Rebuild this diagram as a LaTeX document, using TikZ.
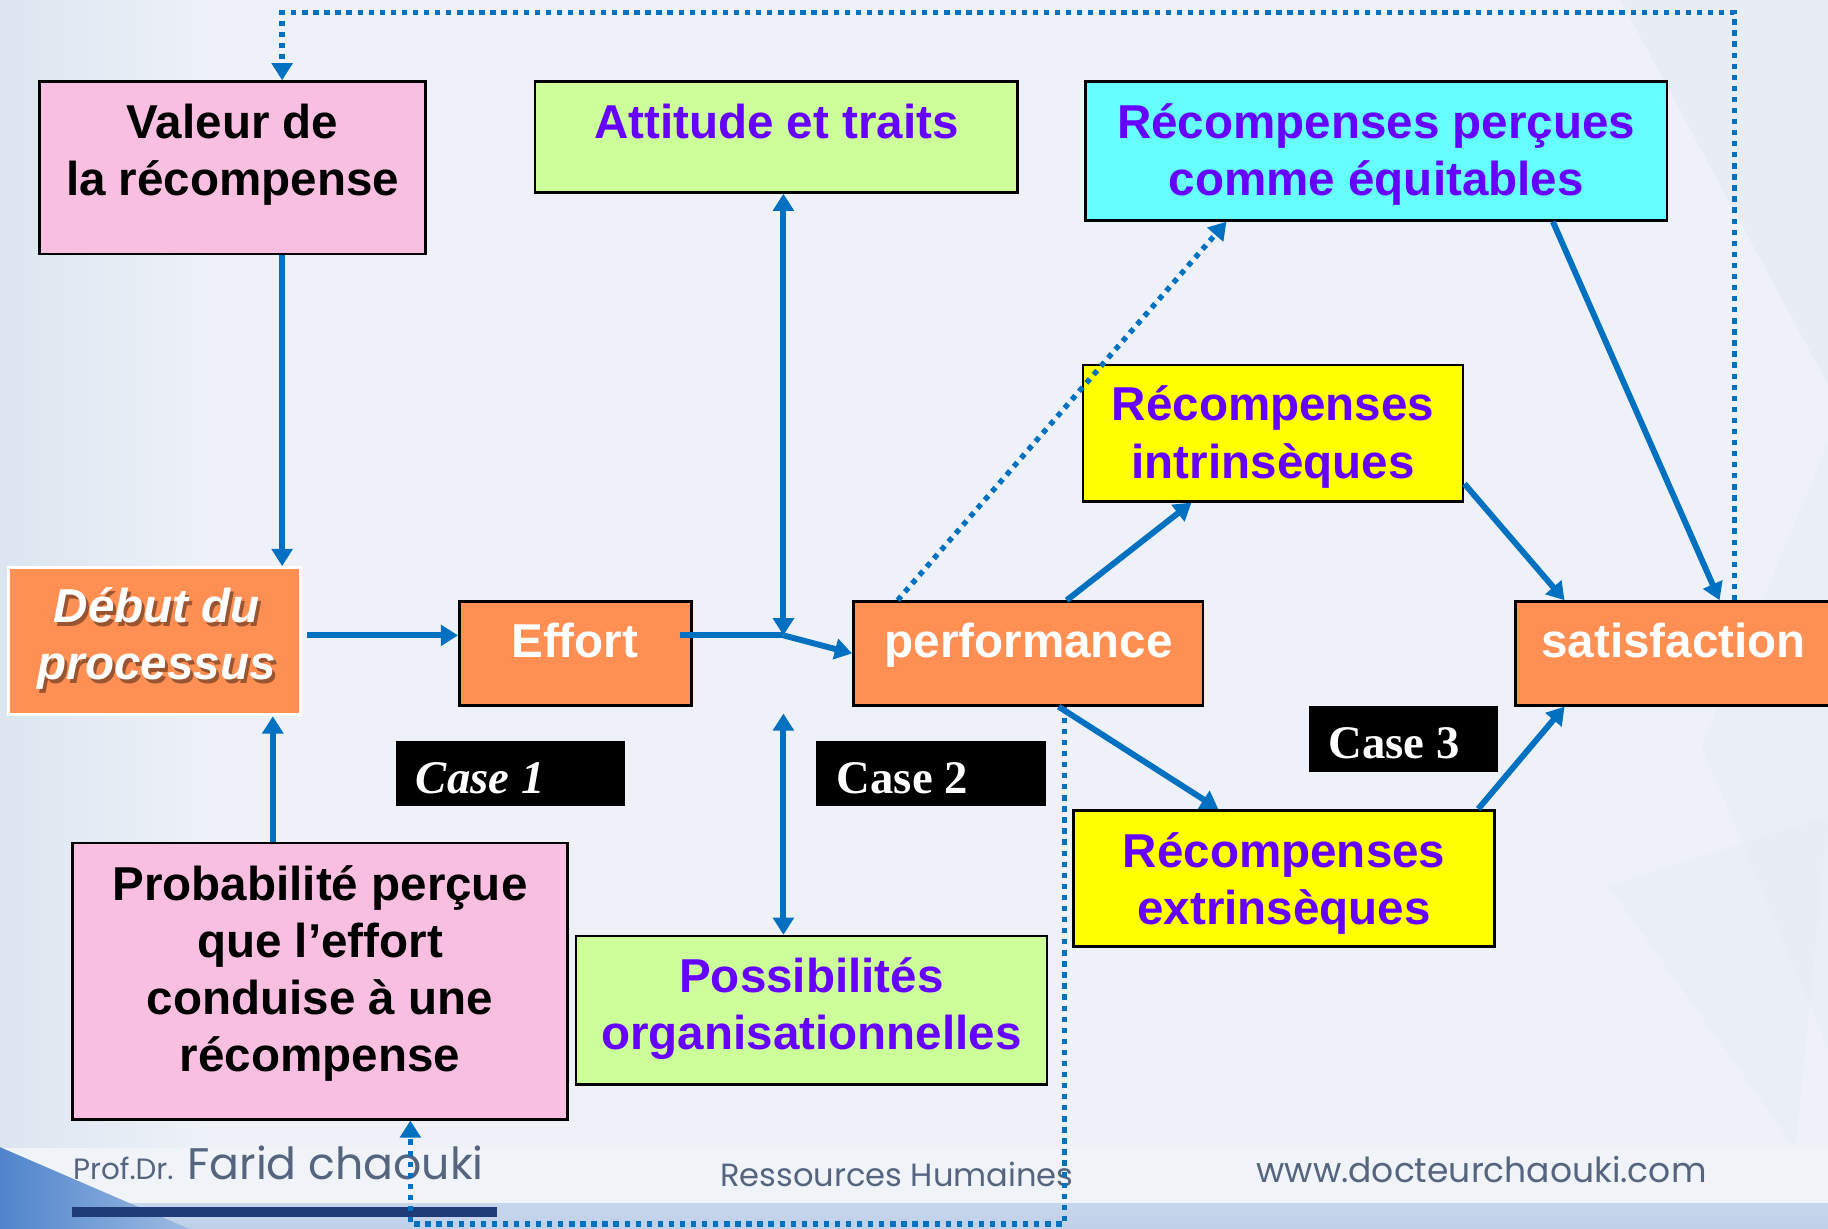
\documentclass[tikz,border=0pt]{standalone}
\usepackage{fontspec}
\setmainfont{Liberation Sans}
\newfontfamily\casefont{Liberation Serif}
\newfontfamily\footfont{Poppins}
\usetikzlibrary{arrows.meta,fit}

\definecolor{bgcol}{HTML}{EEF2F8}
\definecolor{bgleft}{HTML}{DCE5F0}
\definecolor{bgshade}{HTML}{E4EAF2}
\definecolor{bandlight}{HTML}{F0F4F9}
\definecolor{bandblue}{HTML}{C6D6EC}
\definecolor{bandblue2}{HTML}{BFD1EA}
\definecolor{tridark}{HTML}{4F84CC}
\definecolor{trilight}{HTML}{9DBBE2}
\definecolor{pinkbox}{HTML}{F9BFE1}
\definecolor{greenbox}{HTML}{CCFF99}
\definecolor{cyanbox}{HTML}{66FFFF}
\definecolor{yellowbox}{HTML}{FFFF00}
\definecolor{orangebox}{HTML}{FF8F52}
\definecolor{violet}{HTML}{6600FF}
\definecolor{linkc}{HTML}{0070C0}
\definecolor{foot}{HTML}{56657F}
\definecolor{navy}{HTML}{1F3C78}

% centred lines whose baseline is that of the first line
\newcommand\lines[1]{\begin{tabular}[t]{@{}c@{}}#1\end{tabular}}

\begin{document}
\begin{tikzpicture}[x=0.01cm, y=-0.01cm,
  box/.style={rectangle, draw=black, line width=0.65pt, inner sep=0pt},
  txt/.style={anchor=base, inner sep=0pt, font=\fontsize{11.6}{13.94}\selectfont\bfseries},
  wire/.style={draw=linkc, line width=1.45pt},
  tipstyle/.style={},
  link/.style={wire, -{Triangle[length=4.2pt,width=5pt]}},
  both/.style={wire, {Triangle[length=4.2pt,width=5pt]}-{Triangle[length=4.2pt,width=5pt]}},
  dotlink/.style={draw=linkc, line width=1.3pt, dash pattern=on 1.3pt off 1.4pt, -{Triangle[length=4.2pt,width=5pt]}},
  casebox/.style={rectangle, fill=black, inner sep=0pt},
  casetxt/.style={anchor=base west, inner sep=0pt, text=white, font=\casefont\fontsize{11.4}{13}\selectfont\bfseries},
  foottxt/.style={anchor=base west, inner sep=0pt, text=foot}
]
\useasboundingbox (0,0) rectangle (1568,1054);
\clip (0,0) rectangle (1568,1054);

% background
\fill[bgcol] (0,0) rectangle (1568,1054);
\shade[left color=bgleft, right color=bgcol] (0,0) rectangle (180,985);
\fill[bgshade, opacity=0.5] (1390,0) -- (1568,0) -- (1568,330) -- cycle;
\fill[bgshade, opacity=0.4] (1568,380) -- (1460,640) -- (1568,900) -- cycle;
\fill[bgshade, opacity=0.3] (1380,760) -- (1568,700) -- (1540,985) -- cycle;
\fill[bandlight] (0,985) rectangle (1568,1032);
\shade[top color=bandblue, bottom color=bandblue2] (0,1032) rectangle (1568,1054);
\shade[left color=tridark, right color=trilight] (0,984) -- (162,1054) -- (0,1054) -- cycle;
\fill[navy] (62,1035) rectangle (426,1044);

% footer
\node[foottxt] (pd) at (62,1012) {\resizebox{24.5pt}{!}{\footfont Prof.Dr.}};
\node[foottxt] (fc) at (160,1012) {\resizebox{72.3pt}{!}{\footfont Farid chaouki}};
\node[foottxt] (rh) at (617,1018) {\resizebox{86.2pt}{!}{\footfont Ressources Humaines}};
\node[foottxt] (www) at (1077,1014) {\resizebox{109.8pt}{!}{\footfont www.docteurchaouki.com}};

% boxes
\node[box, fill=pinkbox, fit={(34,70)(365,218)}] (val) {};
\node[txt] (valt) at (199.5,119) {\lines{Valeur de\\la récompense}};

\node[box, fill=greenbox, fit={(459,70)(873,165)}] (att) {};
\node[txt, text=violet] (attt) at (666,119) {Attitude et traits};

\node[box, fill=cyanbox, fit={(931,70)(1430,189)}] (equ) {};
\node[txt, text=violet] (equt) at (1180.5,119) {\lines{Récompenses perçues\\comme équitables}};

\node[box, fill=yellowbox, fit={(929,313)(1255,430)}] (intr) {};
\node[txt, text=violet] (intrt) at (1092,361) {\lines{Récompenses\\intrinsèques}};

\node[rectangle, draw=white, line width=0.8pt, fill=orangebox, inner sep=0pt, fit={(7,487)(258,613)}] (deb) {};
\node[txt, text=black, opacity=0.4, font=\fontsize{11.6}{13.94}\selectfont\bfseries\itshape] (debs) at (137,537) {\lines{Début du\\processus}};
\node[txt, text=white, font=\fontsize{11.6}{13.94}\selectfont\bfseries\itshape] (debt) at (134.5,534) {\lines{Début du\\processus}};

\node[box, fill=orangebox, fit={(394,516)(593,605)}] (eff) {};
\node[txt, text=white] (efft) at (493,564) {Effort};

\node[box, fill=orangebox, fit={(732,516)(1032,605)}] (perf) {};
\node[txt, text=white] (perft) at (882.5,564) {performance};

\node[box, fill=orangebox, fit={(1300,516)(1600,605)}] (sat) {};
\node[txt, text=white] (satt) at (1435.5,564) {satisfaction};

\node[box, fill=yellowbox, fit={(921,695)(1282,812)}] (extr) {};
\node[txt, text=violet] (extrt) at (1101.5,744) {\lines{Récompenses\\extrinsèques}};

\node[box, fill=greenbox, fit={(494,803)(898,930)}] (pos) {};
\node[txt, text=violet] (post) at (696,851) {\lines{Possibilités\\organisationnelles}};

\node[box, fill=pinkbox, fit={(62,723)(487,960)}] (prob) {};
\node[txt] (probt) at (274.5,772) {\lines{Probabilité perçue\\que l’effort\\conduise à une\\récompense}};

% case labels
\node[casebox, fit={(340,636)(536,691)}] (c1) {};
\node[casetxt, font=\casefont\fontsize{11.4}{13}\selectfont\bfseries\itshape] (c1t) at (356,681) {Case 1};
\node[casebox, fit={(700,636)(897,691)}] (c2) {};
\node[casetxt] (c2t) at (717,681) {Case 2};
\node[casebox, fit={(1123,606)(1285,662)}] (c3) {};
\node[casetxt] (c3t) at (1139,651) {Case 3};

% connector positions
\coordinate (jn) at (672,545);
\coordinate (lo) at (672,612);
\coordinate (xa) at (242,0);
\coordinate (xb) at (234,0);
\coordinate (xd1) at (770,0);
\coordinate (xd2) at (1052,0);
\coordinate (xi1) at (915,0);
\coordinate (xi2) at (1022,0);
\coordinate (xe1) at (908,0);
\coordinate (xe2) at (1045,0);
\coordinate (ri) at (0,415);
\coordinate (xs1) at (1342,0);
\coordinate (xe3) at (1268,0);
\coordinate (xq1) at (1332,0);
\coordinate (xq2) at (1475,0);
\coordinate (tr) at (1488,11);
\coordinate (tl) at (242,11);
\coordinate (br) at (913,1050);
\coordinate (bl) at (352,1050);

% connectors
\draw[link] (val.south -| xa) -- (deb.north -| xa);
\draw[link] (prob.north -| xb) -- (deb.south -| xb);
\draw[link] ([xshift=0.04cm]deb.east |- jn) -- (eff.west |- jn);
\draw[wire] ([xshift=-0.11cm]eff.east |- jn) -- (jn);
\draw[both] (att.south -| jn) -- (jn);
\draw[link] (jn) -- (perf.west);
\draw[both] (lo) -- (pos.north -| lo);
\draw[dotlink] (perf.north -| xd1) -- (equ.south -| xd2);
\draw[link] (perf.north -| xi1) -- (intr.south -| xi2);
\draw[link] (perf.south -| xe1) -- (extr.north -| xe2);
\draw[link] (intr.east |- ri) -- (sat.north -| xs1);
\draw[link] (extr.north -| xe3) -- (sat.south -| xs1);
\draw[link] (equ.south -| xq1) -- (sat.north -| xq2);
\draw[dotlink] (sat.north -| tr) -- (tr) -- (tl) -- (val.north -| tl);
\draw[dotlink] (perf.south -| br) -- (br) -- (bl) -- (prob.south -| bl);
\end{tikzpicture}
\end{document}
